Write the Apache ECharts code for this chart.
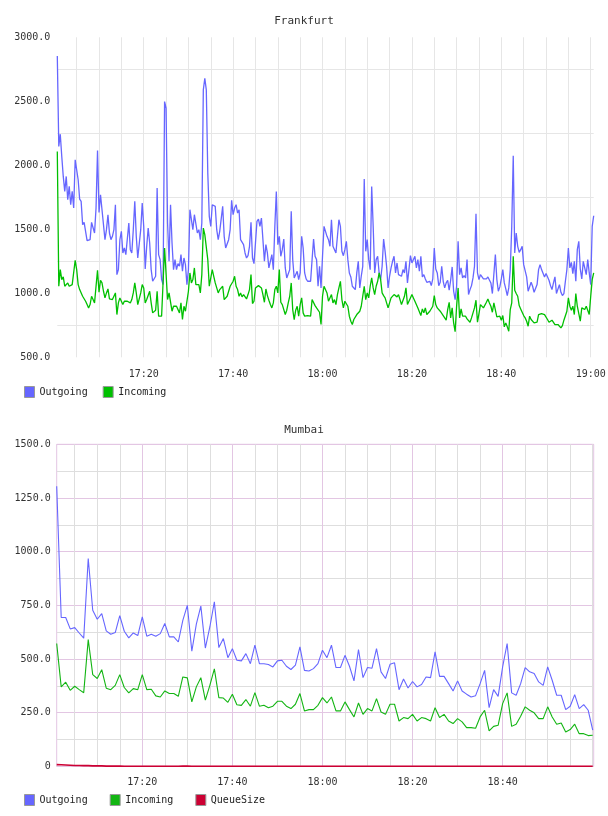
<!doctype html>
<html>
<head>
<meta charset="UTF-8">
<title>Frankfurt / Mumbai</title>
<script src="https://cdn.jsdelivr.net/npm/echarts@6/dist/echarts.min.js"></script>
<style>
  html, body { margin: 0; padding: 0; background: #fff; }
  .chart { width: 608px; height: 408px; }
</style>
</head>
<body>
<div id="frankfurt" class="chart"></div>
<div id="mumbai" class="chart"></div>

<script>
// ---- data ----
// Frankfurt: one sample every 20 s, starting 17:00:40
var frankfurtStart = '17:00:40';
var frankfurtStep = 20;
var frankfurtOutgoing = [
  2854, 2147, 2243, 2069, 1913, 1796, 1913, 1731, 1835, 1692,
  1796, 1666, 2043, 2053, 1887, 1736, 1718, 1536, 1554, 1562,
  1411, 1406, 1419, 1554, 1549, 1471, 1666, 2116, 1632, 1770,
  1653, 1640, 1419, 1497, 1614, 1471, 1419, 1445, 1497, 1692,
  1146, 1185, 1419, 1484, 1315, 1354, 1302, 1302, 1549, 1341,
  1315, 1497, 1718, 1445, 1276, 1276, 1497, 1705, 1523, 1190,
  1367, 1510, 1393, 1185, 1094, 1086, 1133, 1822, 1302, 1263,
  1107, 1068, 2498, 2446, 1549, 1250, 1692, 1393, 1185, 1263,
  1185, 1232, 1211, 1302, 1172, 1276, 1224, 1068, 1185, 1653,
  1653, 1497, 1614, 1601, 1471, 1497, 1419, 1549, 2589, 2680,
  2589, 1939, 1601, 1523, 1692, 1684, 1679, 1497, 1419,
  1484, 1471, 1679, 1445, 1354, 1341, 1419, 1497, 1726, 1614,
  1666, 1692, 1627,
  1653, 1419, 1432, 1380, 1315, 1276, 1294, 1367, 1554, 1276,
  1232, 1393, 1562, 1580, 1523, 1588, 1419, 1250, 1380, 1315,
  1198, 1250, 1302, 1185, 1523, 1796, 1380, 1445, 1289, 1341,
  1424, 1198, 1120, 1112, 1185, 1640, 1263, 1120, 1112, 1172,
  1107, 1159, 1445, 1354, 1159, 1112, 1094, 1081, 1094, 1263,
  1424, 1289, 1263, 1055, 1211, 1042, 1289, 1523, 1523, 1445,
  1419, 1367, 1575, 1367, 1380, 1315, 1315, 1575, 1523, 1328,
  1294, 1341, 1406, 1263, 1159, 1128, 1055, 1068, 1029, 1159,
  1250, 1042, 1133, 1211, 1892, 1328, 1419, 1263, 1185, 1835,
  1523, 1159, 1263, 1289, 1159, 1107, 1211, 1424, 1328, 1211,
  1042, 1133, 1198, 1250, 1289, 1159, 1237, 1146, 1159, 1133,
  1185, 1159, 1250, 1081, 1185, 1294, 1237, 1224, 1289, 1198,
  1263, 1172, 1289, 1128, 1146, 1112, 1086, 1094, 1094, 1060,
  1112, 1354, 1190, 1159, 1060, 1086, 1211, 1094, 1042, 1081,
  1102, 1024, 1102, 1206, 1016, 951, 1055, 1406, 1146, 1198,
  1120, 1138, 1120, 1263, 990, 1029, 1060, 1120, 1211, 1622,
  1159, 1107, 1146, 1133, 1112, 1107, 1112, 1128, 1120, 1081,
  998, 1008, 1302, 1107, 1016, 1050, 1112, 1185, 1081, 1034,
  982, 1042, 1185, 1523, 2074, 1315, 1471, 1367, 1320, 1341,
  1367, 1224, 1232, 1128, 1016, 1003, 1086, 1055, 1008, 1016,
  1068, 1185, 1224, 1185, 1185, 1128, 1154, 1159, 1102, 1060,
  1029, 1081, 1128, 998, 1008, 1068, 1008, 982, 998, 1094,
  1185, 1354, 1198, 1242, 1154, 1250, 1094, 1341, 1406, 1190,
  1112, 1250, 1242, 1146, 1263, 1159, 1068, 1523, 1606
];
var frankfurtIncoming = [
  2108, 1055, 1185, 1107, 1128, 1055, 1042, 1081, 1055, 1042,
  1068, 1068, 1258, 1185, 1068, 1029, 1042, 977, 972, 938,
  912, 886, 912, 977, 951, 925, 1055, 1180, 1008, 1102,
  1081, 1016, 964, 1003, 1034, 956, 964, 951, 964, 1003,
  834, 925, 964, 977, 912, 938, 951, 938, 925, 925,
  951, 1003, 1081, 1003, 912, 925, 1003, 1068, 1042, 925,
  951, 964, 1016, 925, 847, 834, 868, 1016, 821, 834,
  821, 826, 1354, 1354, 951, 1003, 1003, 860, 899, 886,
  899, 899, 847, 925, 795, 899, 860, 847, 1016, 1159,
  1081, 1107, 1198, 1068, 1055, 1068, 1003, 1146, 1510, 1458,
  1471, 1263, 1055, 1055, 1185, 1133, 1081, 1042, 1003,
  1029, 1034, 1055, 951, 938, 977, 977, 1055, 1060, 1094,
  1133, 1055, 1029,
  977, 1003, 972, 990, 977, 956, 990, 1029, 1146, 920,
  938, 1042, 1055, 1060, 1060, 1042, 990, 930, 1034, 982,
  946, 912, 886, 925, 1029, 1055, 1003, 1185, 930, 912,
  925, 834, 868, 925, 977, 1081, 873, 795, 868, 899,
  821, 912, 964, 847, 821, 834, 826, 834, 821, 951,
  938, 904, 886, 873, 852, 756, 977, 1055, 1042, 1003,
  938, 925, 990, 925, 951, 912, 990, 1042, 1094, 951,
  886, 938, 925, 899, 821, 782, 756, 795, 808, 834,
  821, 860, 899, 977, 1055, 951, 1003, 964, 1055, 1120,
  1042, 990, 1055, 1094, 1159, 1107, 1003, 982, 964, 925,
  886, 899, 964, 977, 990, 977, 972, 990, 1003, 912,
  925, 977, 1042, 912, 925, 964, 990, 964, 938, 925,
  886, 899, 826, 878, 847, 886, 834, 847, 860, 860,
  899, 982, 912, 886, 894, 860, 852, 826, 808, 790,
  873, 930, 808, 886, 769, 700, 900, 1042, 808, 878,
  821, 808, 821, 800, 795, 774, 808, 847, 886, 946,
  774, 842, 912, 912, 886, 899, 930, 956, 925, 899,
  852, 925, 938, 816, 816, 821, 790, 826, 738, 769,
  738, 704, 873, 925, 1289, 1024, 998, 977, 904, 878,
  852, 826, 808, 782, 743, 821, 795, 782, 769, 764,
  774, 834, 842, 842, 847, 834, 821, 795, 774, 764,
  790, 782, 756, 748, 756, 743, 730, 748, 790, 805,
  860, 964, 899, 868, 899, 834, 998, 899, 842, 782,
  886, 878, 873, 899, 899, 834, 977, 1107, 1159
];

// Mumbai: one sample per minute, starting 17:01
var mumbaiStart = '17:01:00';
var mumbaiStep = 60;
var mumbaiOutgoing = [
  1305, 693, 693, 640, 646, 621, 597, 968, 727, 685,
  711, 631, 615, 623, 702, 629, 598, 621, 609, 696,
  606, 615, 606, 618, 665, 603, 603, 579, 680, 750,
  536, 662, 746, 551, 649, 766, 553, 595, 506, 548,
  494, 491, 525, 478, 564, 478, 478, 474, 463, 491,
  494, 466, 451, 471, 556, 447, 444, 455, 478, 541,
  506, 564, 460, 460, 517, 466, 398, 544, 413, 460,
  457, 548, 440, 409, 475, 482, 357, 407, 365, 395,
  370, 381, 416, 413, 533, 419, 419, 385, 351, 398,
  351, 336, 323, 329, 385, 447, 273, 357, 326, 463,
  572, 342, 331, 385, 460, 440, 432, 393, 377, 463,
  401, 331, 331, 264, 280, 334, 269, 287, 261, 168
];
var mumbaiIncoming = [
  572, 370, 392, 354, 373, 357, 343, 590, 427, 409,
  450, 364, 357, 377, 427, 367, 342, 362, 357, 427,
  357, 359, 328, 323, 351, 339, 339, 326, 416, 412,
  300, 370, 413, 308, 377, 454, 320, 318, 298, 336,
  287, 284, 311, 280, 343, 280, 284, 273, 280, 303,
  303, 280, 269, 289, 339, 258, 264, 264, 284, 320,
  295, 323, 258, 258, 300, 264, 230, 295, 242, 269,
  258, 315, 253, 242, 289, 289, 211, 227, 222, 242,
  211, 227, 222, 211, 273, 227, 242, 211, 199, 222,
  207, 180, 180, 177, 230, 261, 165, 186, 191, 292,
  342, 186, 196, 233, 277, 261, 249, 222, 222, 277,
  230, 196, 202, 160, 171, 196, 152, 152, 143, 145
];
var mumbaiQueueSize = [
  8, 7, 6, 5, 4, 4, 3, 3, 2, 2,
  2, 1, 1, 1, 1, 0, 0, 0, 0, 0,
  0, 0, 0, 0, 0, 0, 0, 0, 1, 1,
  0, 0, 0, 0, 0, 0, 0, 0, 0, 0,
  0, 0, 0, 0, 0, 0, 0, 0, 0, 0,
  0, 0, 0, 0, 0, 0, 0, 0, 0, 0,
  0, 0, 0, 0, 0, 0, 0, 0, 0, 0,
  0, 0, 0, 0, 0, 0, 0, 0, 0, 0,
  0, 0, 0, 0, 0, 0, 0, 0, 0, 0,
  0, 0, 0, 0, 0, 0, 0, 0, 0, 0,
  0, 0, 0, 0, 0, 0, 0, 0, 0, 0,
  0, 0, 0, 0, 0, 0, 0, 0, 0, 0
];

// tick labels
var frankfurtTimeLabels = ['17:20', '17:40', '18:00', '18:20', '18:40', '19:00'];
var mumbaiTimeLabels = ['17:20', '17:40', '18:00', '18:20', '18:40'];
var frankfurtValueLabels = [500, 1000, 1500, 2000, 2500, 3000];
var frankfurtGridValues = [750, 1250, 1750, 2250, 2750];
var mumbaiValueLabels = [0, 250, 500, 750, 1000, 1250, 1500];

// ---- helpers ----
var FONT = '"DejaVu Sans Mono", "Liberation Mono", monospace';

function secs(hms) {
    var p = hms.split(':').map(Number);
    return p[0] * 3600 + p[1] * 60 + (p[2] || 0);
}
function hhmm(v) {
    var m = Math.round(v / 60);
    var h = Math.floor(m / 60);
    m = m % 60;
    return h + ':' + (m < 10 ? '0' : '') + m;
}
function toPairs(start, step, values) {
    var t0 = secs(start);
    return values.map(function (v, i) { return [t0 + i * step, v]; });
}
// every 5 minutes between two times
function fiveMinuteMarks(from, to) {
    var out = [];
    for (var t = secs(from); t <= secs(to); t += 300) out.push(t);
    return out;
}

var labelStyle = { fontFamily: FONT, fontSize: 10, color: '#333' };
var legendBase = {
    left: 24, top: 386, padding: 0,
    icon: 'rect', itemWidth: 10, itemHeight: 11,
    itemStyle: { borderColor: '#999', borderWidth: 1 },
    textStyle: { fontFamily: FONT, fontSize: 10, color: '#222' }
};
function titleOf(text, top) {
    return {
        text: text, left: 'center', top: top, padding: 0,
        textStyle: { fontFamily: FONT, fontSize: 11, fontWeight: 'normal', color: '#333' }
    };
}

// ---- Frankfurt ----
var fraChart = echarts.init(document.getElementById('frankfurt'));
fraChart.setOption({
    animation: false,
    title: titleOf('Frankfurt', 16),
    legend: Object.assign({}, legendBase, { itemGap: 15, data: ['Outgoing', 'Incoming'] }),
    grid: { left: 57.3, right: 14.3, top: 37.3, height: 320, outerBoundsMode: 'none' },
    xAxis: {
        type: 'value', min: secs('17:00:40'), max: secs('19:00:40'),
        axisLine: { show: false, onZero: false },
        axisTick: { show: false, customValues: fiveMinuteMarks('17:05', '19:00') },
        axisLabel: Object.assign({}, labelStyle, {
            margin: 12,
            customValues: frankfurtTimeLabels.map(secs),
            formatter: hhmm
        }),
        splitLine: { show: true, lineStyle: { color: '#e6e6e6', width: 1 } }
    },
    yAxis: {
        type: 'value', min: 500, max: 3000,
        axisLine: { show: false },
        axisTick: { show: false, customValues: frankfurtGridValues },
        axisLabel: Object.assign({}, labelStyle, {
            margin: 7,
            customValues: frankfurtValueLabels,
            formatter: function (v) { return v.toFixed(1); }
        }),
        splitLine: { show: true, lineStyle: { color: '#e6e6e6', width: 1 } }
    },
    series: [
        {
            name: 'Outgoing', type: 'line', color: '#6666ff', showSymbol: false,
            lineStyle: { width: 1.3 },
            data: toPairs(frankfurtStart, frankfurtStep, frankfurtOutgoing)
        },
        {
            name: 'Incoming', type: 'line', color: '#00c000', showSymbol: false,
            lineStyle: { width: 1.3 },
            data: toPairs(frankfurtStart, frankfurtStep, frankfurtIncoming)
        }
    ]
});

// ---- Mumbai ----
var PINK = '#e3c6e3';
var GRAY = '#dedede';
var mumChart = echarts.init(document.getElementById('mumbai'));
var mumMin = secs('17:01:00'), mumMax = secs('19:00:13');
mumChart.setOption({
    animation: false,
    title: titleOf('Mumbai', 17),
    legend: Object.assign({}, legendBase, { itemGap: 22, data: ['Outgoing', 'Incoming', 'QueueSize'] }),
    grid: {
        left: 56.7, right: 14.3, top: 36.3, height: 322, outerBoundsMode: 'none',
        show: true, borderColor: PINK, borderWidth: 1, backgroundColor: 'transparent'
    },
    xAxis: [
        {   // 5 minute lines
            type: 'value', min: mumMin, max: mumMax, position: 'bottom',
            axisLine: { show: false, onZero: false },
            axisTick: { show: false, customValues: fiveMinuteMarks('17:05', '19:00') },
            axisLabel: { show: false },
            splitLine: { show: true, lineStyle: { color: GRAY } }
        },
        {   // 20 minute lines with labels
            type: 'value', min: mumMin, max: mumMax, position: 'bottom',
            axisLine: { show: false, onZero: false },
            axisTick: { show: false, customValues: mumbaiTimeLabels.map(secs) },
            axisLabel: Object.assign({}, labelStyle, {
                margin: 11,
                customValues: mumbaiTimeLabels.map(secs),
                formatter: hhmm
            }),
            splitLine: { show: true, lineStyle: { color: PINK } }
        }
    ],
    yAxis: [
        {
            type: 'value', min: 0, max: 1500, interval: 125,
            axisLine: { show: false }, axisTick: { show: false },
            axisLabel: { show: false },
            splitLine: { show: true, lineStyle: { color: GRAY } }
        },
        {
            type: 'value', min: 0, max: 1500, interval: 250, position: 'left',
            axisLine: { show: false }, axisTick: { show: false },
            axisLabel: Object.assign({}, labelStyle, {
                margin: 6,
                customValues: mumbaiValueLabels,
                formatter: function (v) { return v === 0 ? '0' : v.toFixed(1); }
            }),
            splitLine: { show: true, lineStyle: { color: PINK } }
        }
    ],
    series: [
        {
            name: 'Outgoing', type: 'line', color: '#6666ff', showSymbol: false,
            lineStyle: { width: 1.1 },
            data: toPairs(mumbaiStart, mumbaiStep, mumbaiOutgoing)
        },
        {
            name: 'Incoming', type: 'line', color: '#13b513', showSymbol: false,
            lineStyle: { width: 1.1 },
            data: toPairs(mumbaiStart, mumbaiStep, mumbaiIncoming)
        },
        {
            name: 'QueueSize', type: 'line', color: '#cc0033', showSymbol: false,
            lineStyle: { width: 1.6 },
            data: toPairs(mumbaiStart, mumbaiStep, mumbaiQueueSize)
        }
    ]
});
</script>
</body>
</html>
